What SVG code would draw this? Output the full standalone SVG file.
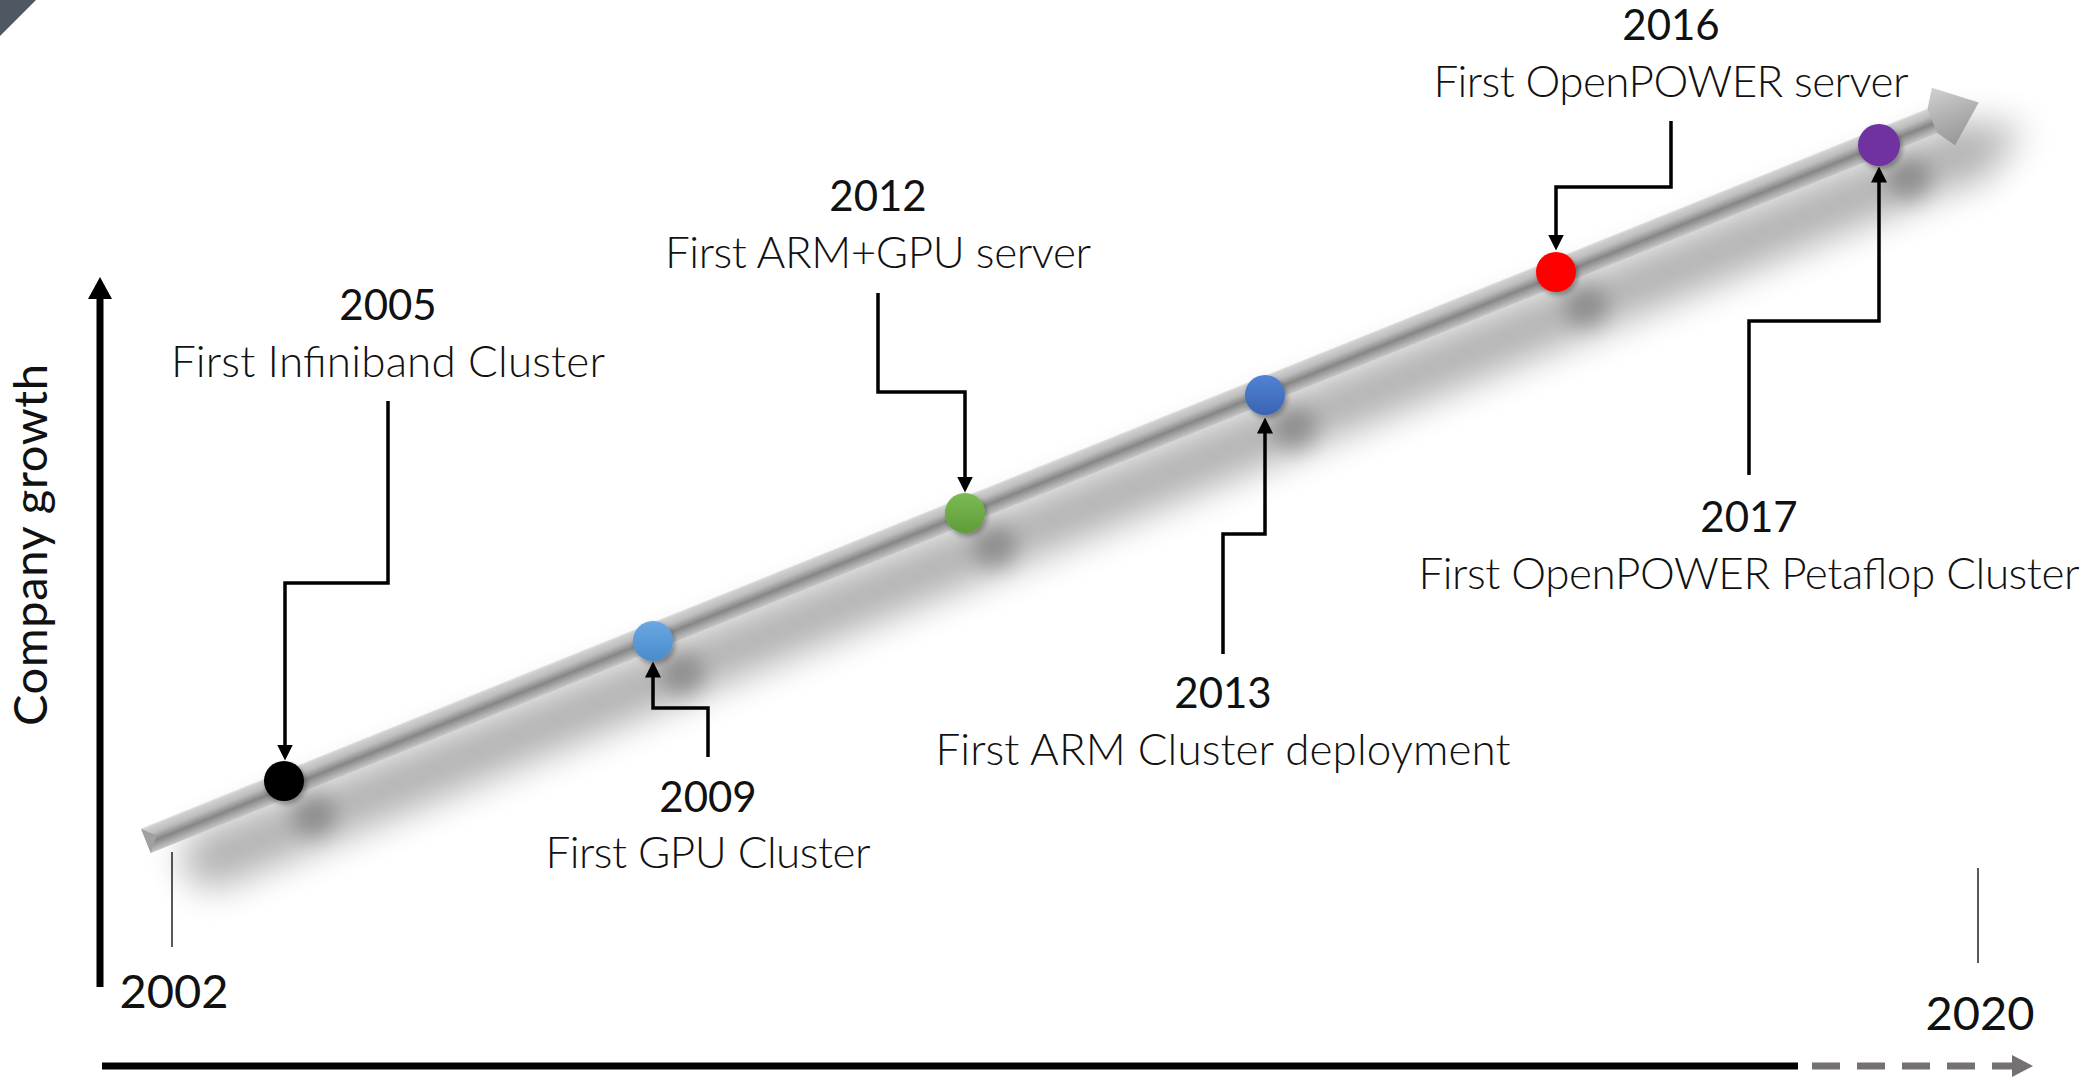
<svg xmlns="http://www.w3.org/2000/svg" width="2100" height="1080" viewBox="0 0 2100 1080">
  <defs>
    <style>
      .yr{font-family:Lato,"Open Sans","Liberation Sans",sans-serif;font-size:42px;font-weight:400;fill:#111;text-anchor:middle}
      .desc{font-family:Lato,"Open Sans","Liberation Sans",sans-serif;font-size:44px;font-weight:300;fill:#111;text-anchor:middle}
      .axis-yr{font-family:Lato,"Open Sans","Liberation Sans",sans-serif;font-size:47px;font-weight:400;fill:#111;text-anchor:middle}
      .conn{fill:none;stroke:#000;stroke-width:3.5;marker-end:url(#arrow)}
      .tick{stroke:#222;stroke-width:1.5}
    </style>
    <marker id="arrow" markerUnits="userSpaceOnUse" markerWidth="16" markerHeight="16" viewBox="0 0 16 16" refX="0.5" refY="8" orient="auto">
      <path d="M0,0 L16,8 L0,16 Z" fill="#000"/>
    </marker>
    <linearGradient id="tubeGrad" x1="0" y1="0" x2="0" y2="1">
      <stop offset="0" stop-color="#d4d4d4"/>
      <stop offset="0.3" stop-color="#bdbdbd"/>
      <stop offset="0.6" stop-color="#868686"/>
      <stop offset="0.82" stop-color="#a9a9a9"/>
      <stop offset="1" stop-color="#c6c6c6"/>
    </linearGradient>
    <linearGradient id="headGrad" x1="0" y1="0" x2="0" y2="1">
      <stop offset="0" stop-color="#d0d0d0"/>
      <stop offset="0.5" stop-color="#b2b2b2"/>
      <stop offset="1" stop-color="#979797"/>
    </linearGradient>
    <linearGradient id="gLightBlue" x1="0" y1="0" x2="0" y2="1">
      <stop offset="0" stop-color="#6aa8e2"/>
      <stop offset="1" stop-color="#4a8bcc"/>
    </linearGradient>
    <linearGradient id="gGreen" x1="0" y1="0" x2="0" y2="1">
      <stop offset="0" stop-color="#7cba54"/>
      <stop offset="1" stop-color="#5e9d38"/>
    </linearGradient>
    <linearGradient id="gBlue" x1="0" y1="0" x2="0" y2="1">
      <stop offset="0" stop-color="#5182d4"/>
      <stop offset="1" stop-color="#3a64b2"/>
    </linearGradient>
    <filter id="softShadow" x="-20%" y="-300%" width="140%" height="700%">
      <feGaussianBlur stdDeviation="18"/>
    </filter>
    <filter id="blobShadow" x="-100%" y="-100%" width="300%" height="300%">
      <feGaussianBlur stdDeviation="10"/>
    </filter>
    <filter id="dotShadow" x="-50%" y="-50%" width="200%" height="200%">
      <feDropShadow dx="2" dy="3" stdDeviation="2.5" flood-color="#000" flood-opacity="0.35"/>
    </filter>
  </defs>

  <rect width="2100" height="1080" fill="#fff"/>

  <!-- corner tab -->
  <polygon points="0,0 36,0 0,36" fill="#4f5762"/>

  <!-- axes -->
  <g id="axes">
    <line x1="100" y1="987" x2="100" y2="297" stroke="#000" stroke-width="7"/>
    <polygon points="88,299 100,277 112,299" fill="#000"/>
    <line x1="102" y1="1066" x2="1798" y2="1066" stroke="#000" stroke-width="7"/>
    <line x1="1812" y1="1066" x2="2015" y2="1066" stroke="#767171" stroke-width="7" stroke-dasharray="28 17"/>
    <polygon points="2012,1055 2033,1066 2012,1077" fill="#767171"/>
    <line class="tick" x1="172" y1="852" x2="172" y2="947"/>
    <line class="tick" x1="1978" y1="868" x2="1978" y2="963"/>
    <text class="axis-yr" x="174" y="1008">2002</text>
    <text class="axis-yr" x="1980" y="1030">2020</text>
    <text class="axis-yr" transform="translate(47,545) rotate(-90)" textLength="362">Company growth</text>
  </g>

  <!-- growth bar -->
  <g id="timeline-bar" transform="translate(146,841) rotate(-21.95)">
    <g filter="url(#softShadow)" opacity="0.3">
      <rect x="25" y="12" width="1940" height="58" rx="29" fill="#000"/>
      <polygon points="1935,4 2010,40 1945,78" fill="#000"/>
    </g>
    <rect x="0" y="-13" width="1934" height="26" fill="url(#tubeGrad)"/>
    <line x1="0" y1="-13" x2="1934" y2="-13" stroke="#e2e2e2" stroke-width="1"/>
    <polygon points="0,-13 12,-1 0,13" fill="#a0a0a0"/>
    <polygon points="1926,-13 1938,-31 1976,0 1938,31 1926,13" fill="url(#headGrad)"/>
  </g>

  <!-- soft blobs under the milestones -->
  <g filter="url(#blobShadow)" opacity="0.22">
    <circle cx="314" cy="815" r="22"/>
    <circle cx="683" cy="675" r="22"/>
    <circle cx="995" cy="547" r="22"/>
    <circle cx="1295" cy="429" r="22"/>
    <circle cx="1586" cy="306" r="22"/>
    <circle cx="1909" cy="179" r="22"/>
  </g>

  <!-- milestones -->
  <g id="m2005" filter="url(#dotShadow)"><circle cx="284" cy="781" r="20" fill="#000"/></g>
  <g id="m2009" filter="url(#dotShadow)"><circle cx="653" cy="641" r="20" fill="url(#gLightBlue)"/></g>
  <g id="m2012" filter="url(#dotShadow)"><circle cx="965" cy="513" r="20" fill="url(#gGreen)"/></g>
  <g id="m2013" filter="url(#dotShadow)"><circle cx="1265" cy="395" r="20" fill="url(#gBlue)"/></g>
  <g id="m2016" filter="url(#dotShadow)"><circle cx="1556" cy="272" r="20" fill="#ff0000"/></g>
  <g id="m2017" filter="url(#dotShadow)"><circle cx="1879" cy="145" r="21" fill="#7030a0"/></g>

  <!-- labels -->
  <g id="label2005">
    <text class="yr" x="388" y="320">2005</text>
    <text class="desc" x="388" y="377" textLength="434">First Infiniband Cluster</text>
  </g>
  <g id="label2009">
    <text class="yr" x="708" y="812">2009</text>
    <text class="desc" x="708" y="868" textLength="325">First GPU Cluster</text>
  </g>
  <g id="label2012">
    <text class="yr" x="878" y="211">2012</text>
    <text class="desc" x="878" y="268" textLength="426">First ARM+GPU server</text>
  </g>
  <g id="label2013">
    <text class="yr" x="1223" y="708">2013</text>
    <text class="desc" x="1223" y="765" textLength="575">First ARM Cluster deployment</text>
  </g>
  <g id="label2016">
    <text class="yr" x="1671" y="40">2016</text>
    <text class="desc" x="1671" y="97" textLength="475">First OpenPOWER server</text>
  </g>
  <g id="label2017">
    <text class="yr" x="1749" y="532">2017</text>
    <text class="desc" x="1749" y="589" textLength="661">First OpenPOWER Petaflop Cluster</text>
  </g>

  <!-- connectors -->
  <g id="connectors">
    <path class="conn" d="M388,401 V583 H285 V745"/>
    <path class="conn" d="M708,757 V708 H653 V677"/>
    <path class="conn" d="M878,293 V392 H965 V477"/>
    <path class="conn" d="M1223,654 V534 H1265 V433"/>
    <path class="conn" d="M1671,121 V187 H1556 V235"/>
    <path class="conn" d="M1749,475 V321 H1879 V182"/>
  </g>
</svg>
